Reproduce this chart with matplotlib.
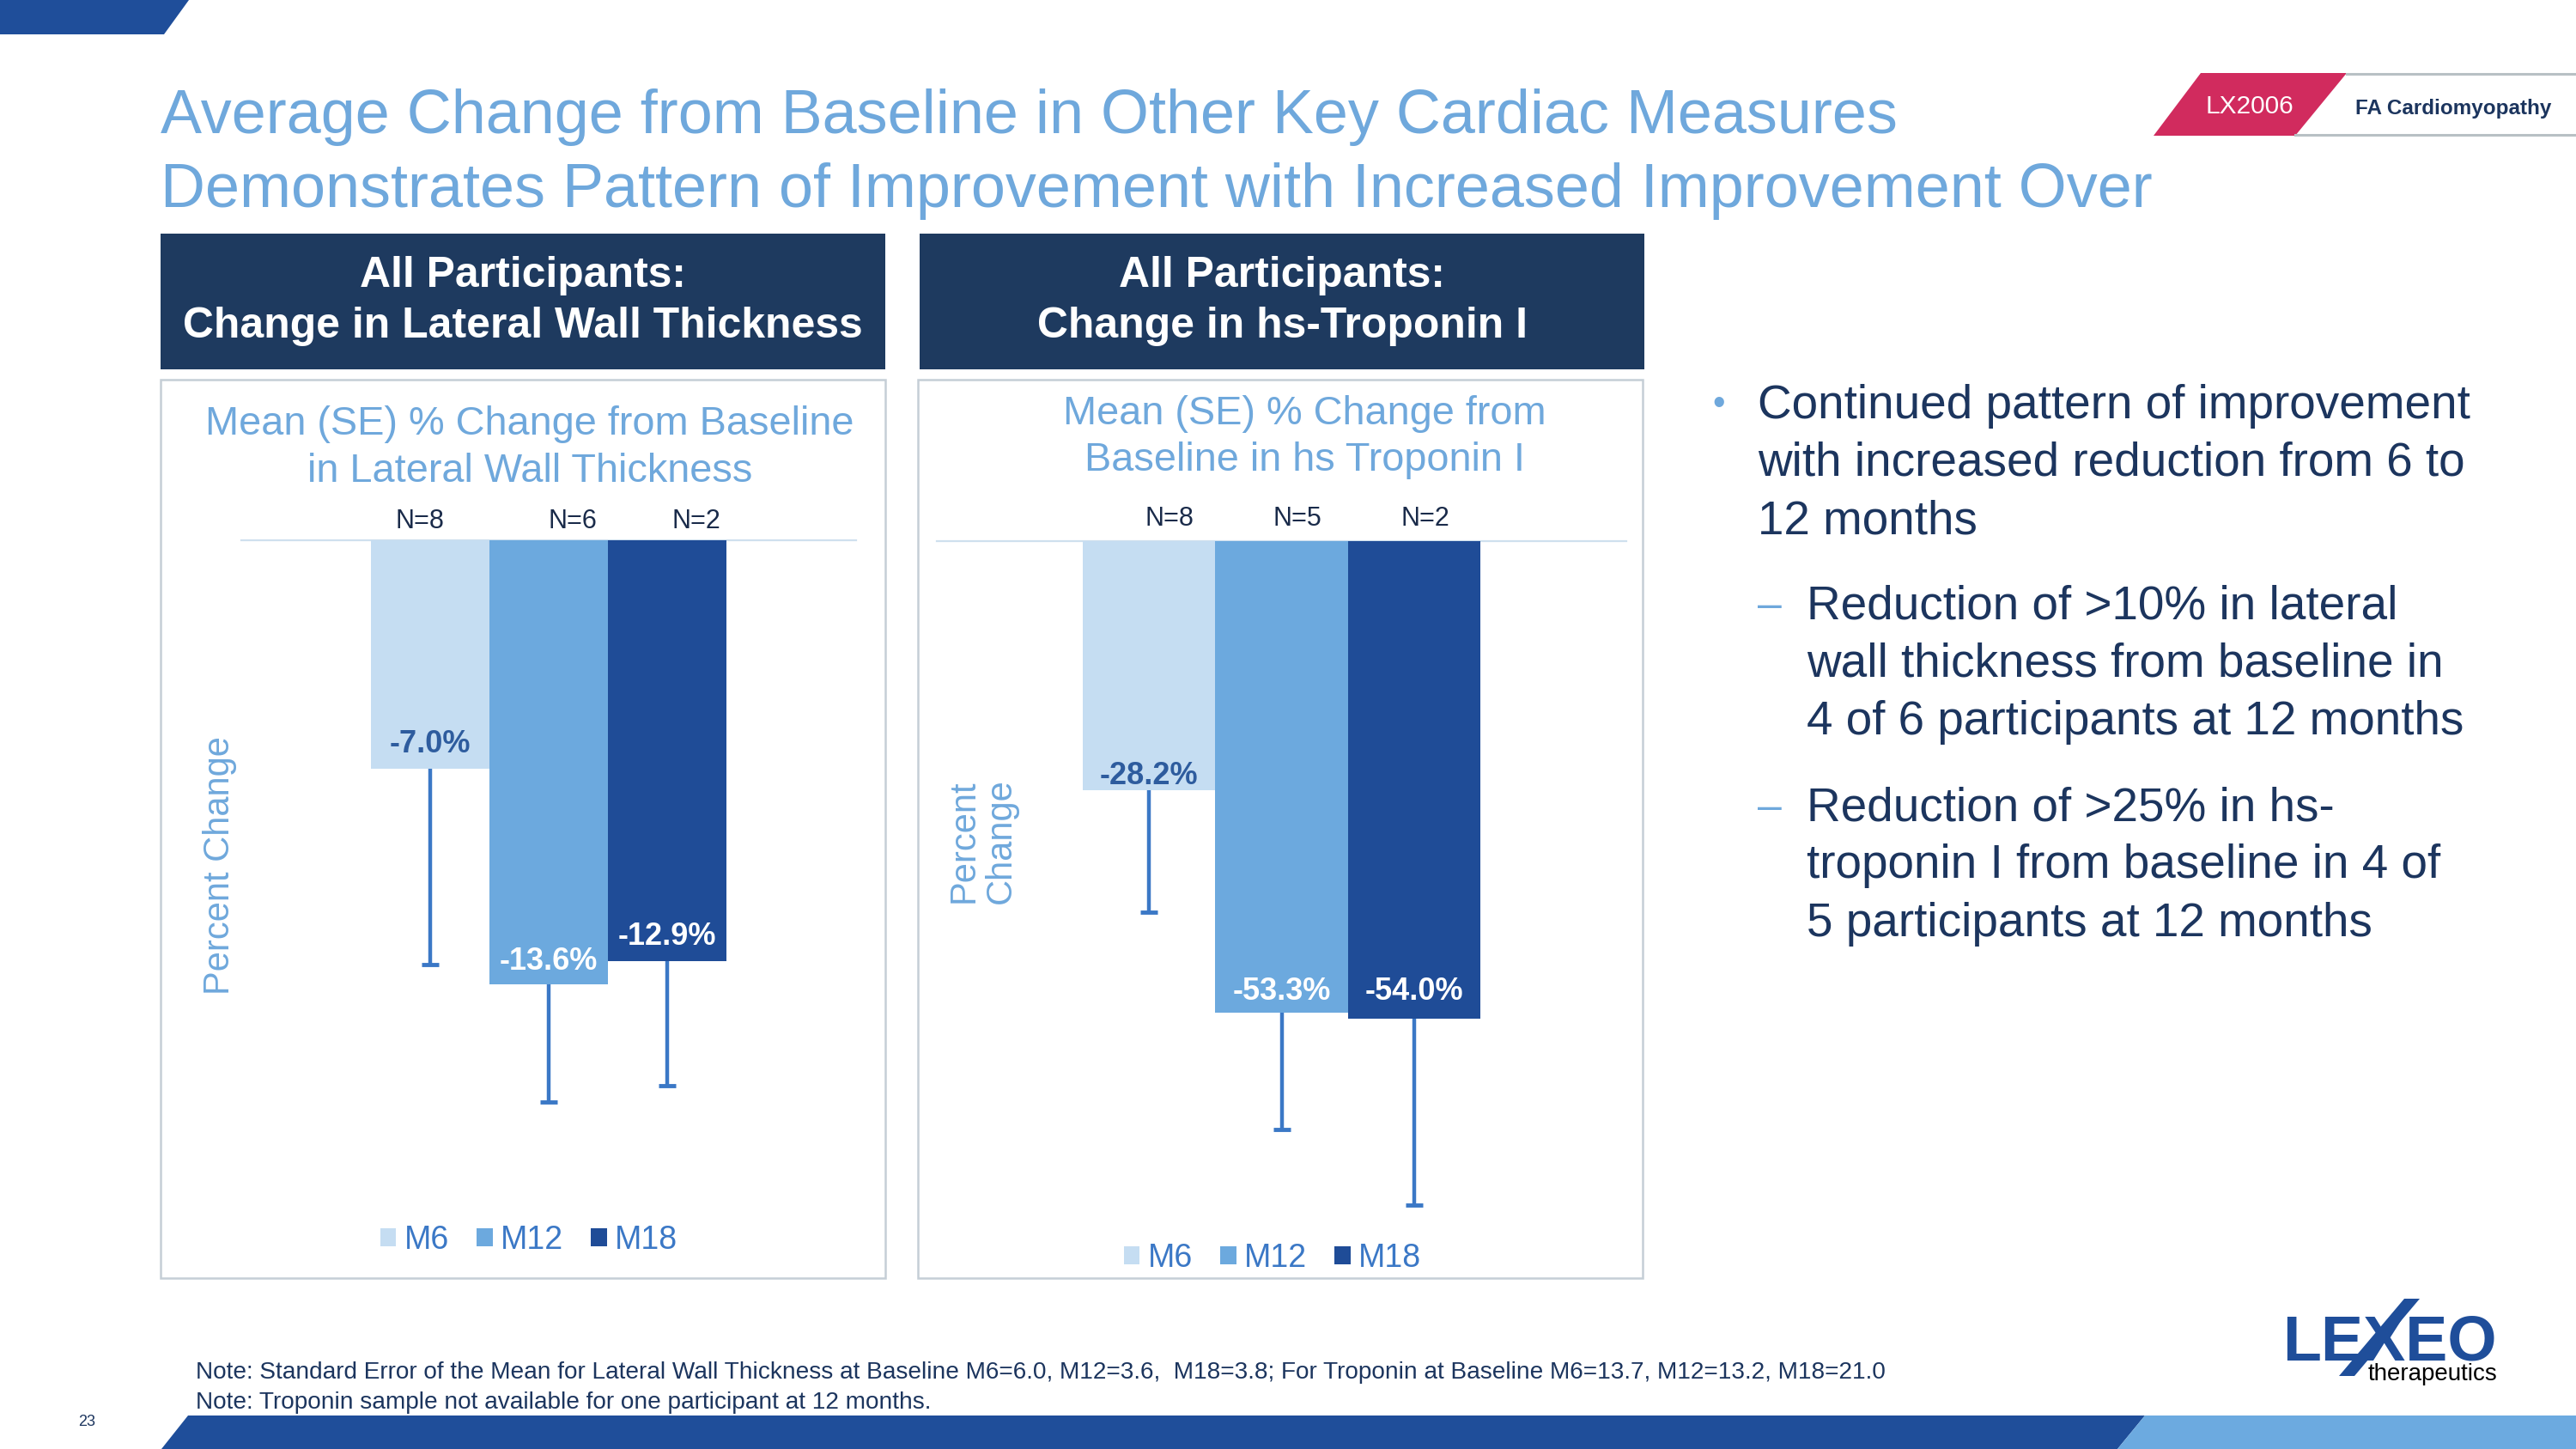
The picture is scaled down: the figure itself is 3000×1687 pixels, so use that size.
import matplotlib
matplotlib.use("Agg")
import matplotlib.pyplot as plt
from matplotlib.patches import Polygon, Rectangle, Patch
import numpy as np

# ---------------- data ----------------
months = ["M6", "M12", "M18"]

lwt_mean = [-7.0, -13.6, -12.9]      # lateral wall thickness, mean % change
lwt_se = [6.0, 3.6, 3.8]
lwt_n = [8, 6, 2]

trop_mean = [-28.2, -53.3, -54.0]    # hs-troponin I, mean % change
trop_se = [13.7, 13.2, 21.0]
trop_n = [8, 5, 2]

title_lines = ["Average Change from Baseline in Other Key Cardiac Measures",
               "Demonstrates Pattern of Improvement with Increased Improvement Over"]
notes = ["Note: Standard Error of the Mean for Lateral Wall Thickness at Baseline M6=6.0, M12=3.6,  M18=3.8; "
         "For Troponin at Baseline M6=13.7, M12=13.2, M18=21.0",
         "Note: Troponin sample not available for one participant at 12 months."]
bullet_main = ["Continued pattern of improvement",
               "with increased reduction from 6 to",
               "12 months"]
bullet_sub1 = ["Reduction of >10% in lateral",
               "wall thickness from baseline in",
               "4 of 6 participants at 12 months"]
bullet_sub2 = ["Reduction of >25% in hs-",
               "troponin I from baseline in 4 of",
               "5 participants at 12 months"]

# ---------------- style ----------------
plt.rcParams["font.family"] = ["Liberation Sans", "DejaVu Sans"]

NAVY = "#1E3A5F"
TEXT_NAVY = "#1C355E"
TITLE_BLUE = "#6FA8DC"
DARK_BLUE = "#1F4E9A"
LIGHT_BAR = "#6CAAE0"
BAR_COLORS = ["#C5DDF2", "#6CA9DE", "#1F4C97"]
ERR_COLOR = "#3B78C6"
LABEL_COLORS = ["#2E5C9E", "white", "white"]

W, H = 3000, 1687
fig = plt.figure(figsize=(30, 16.87), dpi=100)

bg = fig.add_axes([0, 0, 1, 1])
bg.set_xlim(0, W)
bg.set_ylim(H, 0)
bg.axis("off")


def px_axes(left, top, right, bottom):
    return fig.add_axes([left / W, 1 - bottom / H, (right - left) / W, (bottom - top) / H])


# decorations
bg.add_patch(Polygon([(0, 0), (220, 0), (191, 40), (0, 40)], color=DARK_BLUE, lw=0))
bg.add_patch(Polygon([(219, 1648), (2498, 1648), (2466, 1687), (188, 1687)], color=DARK_BLUE, lw=0))
bg.add_patch(Polygon([(2498, 1648), (3000, 1648), (3000, 1687), (2466, 1687)], color=LIGHT_BAR, lw=0))

# badge
bg.add_patch(Polygon([(2563, 85), (2733, 85), (2673, 158), (2508, 158)], color="#D12B5E", lw=0))
bg.plot([2733, 3000], [86, 86], color="#B8C0C4", lw=2.2)
bg.plot([2673, 3000], [157, 157], color="#B8C0C4", lw=2.2)
bg.text(2620, 124, "LX2006", color="white", fontsize=21.5, ha="center", va="center")
bg.text(2857, 126, "FA Cardiomyopathy", color=TEXT_NAVY, fontsize=17.5, fontweight="bold",
        ha="center", va="center")

# title
for i, line in enumerate(title_lines):
    bg.text(187, 136 + i * 86, line, color=TITLE_BLUE, fontsize=51.8, ha="left", va="center")

# panel headers and boxes
headers = [("All Participants:", "Change in Lateral Wall Thickness"),
           ("All Participants:", "Change in hs-Troponin I")]
for (l, r), hdr in zip([(187, 1031), (1071, 1915)], headers):
    bg.add_patch(Rectangle((l, 272), r - l, 158, color=NAVY, lw=0))
    bg.text((l + r) / 2, 321, hdr[0], color="white", fontsize=35.9, fontweight="bold",
            ha="center", va="center")
    bg.text((l + r) / 2, 380, hdr[1], color="white", fontsize=35.9, fontweight="bold",
            ha="center", va="center")

for l, r in [(187, 1031), (1069, 1913)]:
    bg.add_patch(Rectangle((l, 442), r - l, 1046, fill=False, edgecolor="#C5CED6", lw=1.8))

# chart subtitles and y labels
bg.text(617, 494, "Mean (SE) % Change from Baseline", color=TITLE_BLUE, fontsize=33.75,
        ha="center", va="center")
bg.text(617, 549, "in Lateral Wall Thickness", color=TITLE_BLUE, fontsize=33.75,
        ha="center", va="center")
bg.text(1519, 482, "Mean (SE) % Change from", color=TITLE_BLUE, fontsize=33.75,
        ha="center", va="center")
bg.text(1519, 536, "Baseline in hs Troponin I", color=TITLE_BLUE, fontsize=33.75,
        ha="center", va="center")
bg.text(256, 1008, "Percent Change", color=TITLE_BLUE, fontsize=30, rotation=90,
        ha="center", va="center")
bg.text(1144, 979, "Percent\nChange", color=TITLE_BLUE, fontsize=30, rotation=90,
        ha="center", va="center", multialignment="center", linespacing=1.1)


def draw_chart(ax, means, se, ns, ylim, n_dx, n_dy, lab_dy):
    x = np.arange(len(means))
    means = np.array(means)
    se = np.array(se)
    ax.bar(x, means, width=1.0, color=BAR_COLORS, zorder=2)
    ax.vlines(x, means - se, means, color=ERR_COLOR, lw=3.2, zorder=3)
    ax.plot(x, means - se, ls="none", marker="_", ms=14, mew=3.5, color=ERR_COLOR, zorder=3)
    ax.axhline(0, color="#CFE0EE", lw=1.6, zorder=1, clip_on=False)
    for i, m in enumerate(means):
        ax.annotate(f"{m:.1f}%", (x[i], m), xytext=(0, lab_dy[i]), textcoords="offset pixels",
                    ha="center", va="center", fontsize=26, fontweight="bold",
                    color=LABEL_COLORS[i], zorder=4)
        ax.annotate(f"N={ns[i]}", (x[i], 0), xytext=(n_dx[i], n_dy), textcoords="offset pixels",
                    ha="center", va="center", fontsize=22, color="#1A2B4A",
                    annotation_clip=False)
    ax.set_xlim(-1.6, 3.6)
    ax.set_ylim(*ylim)
    ax.set_facecolor("none")
    ax.axis("off")


ax1 = px_axes(281, 629, 997, 1389)
draw_chart(ax1, lwt_mean, lwt_se, lwt_n, (-20, 0), [-12, 28, 34], 22, [29, 26, 29])
ax2 = px_axes(1091, 630, 1894, 1454)
draw_chart(ax2, trop_mean, trop_se, trop_n, (-80, 0), [24, 18, 13], 26, [17, 24, 32])

handles = [Patch(facecolor=c, edgecolor="none") for c in BAR_COLORS]
for cx, cy in [(616, 1444), (1482, 1465)]:
    fig.legend(handles, months, loc="center", bbox_to_anchor=(cx / W, 1 - cy / H), ncol=3,
               frameon=False, fontsize=27, labelcolor=ERR_COLOR, handlelength=0.5,
               handleheight=0.5, handletextpad=0.25, columnspacing=0.85)

# bullets
bg.text(2002, 471, "\u2022", color=TITLE_BLUE, fontsize=30, ha="center", va="center")
for i, line in enumerate(bullet_main):
    bg.text(2047, 473 + i * 67, line, color=TEXT_NAVY, fontsize=39.5, ha="left", va="center")
for start, lines in [(706, bullet_sub1), (941, bullet_sub2)]:
    bg.text(2061, start, "\u2013", color=TITLE_BLUE, fontsize=36, ha="center", va="center")
    for i, line in enumerate(lines):
        bg.text(2104, start + i * 67.5, line, color=TEXT_NAVY, fontsize=39.5, ha="left", va="center")

# notes and page number
for i, line in enumerate(notes):
    bg.text(228, 1598 + i * 35, line, color=TEXT_NAVY, fontsize=20.15, ha="left", va="center")
bg.text(101, 1655, "23", color=TEXT_NAVY, fontsize=13, ha="center", va="center")

# logo
bg.text(2658, 1583, "LEXEO", color=DARK_BLUE, fontsize=53, fontweight="bold", ha="left", va="baseline")
bg.add_patch(Polygon([(2724, 1602), (2742, 1602), (2818, 1512), (2800, 1512)], color=DARK_BLUE, lw=0))
bg.text(2758, 1607, "therapeutics", color="black", fontsize=20, ha="left", va="baseline")

fig.savefig("out.png", dpi=100)
